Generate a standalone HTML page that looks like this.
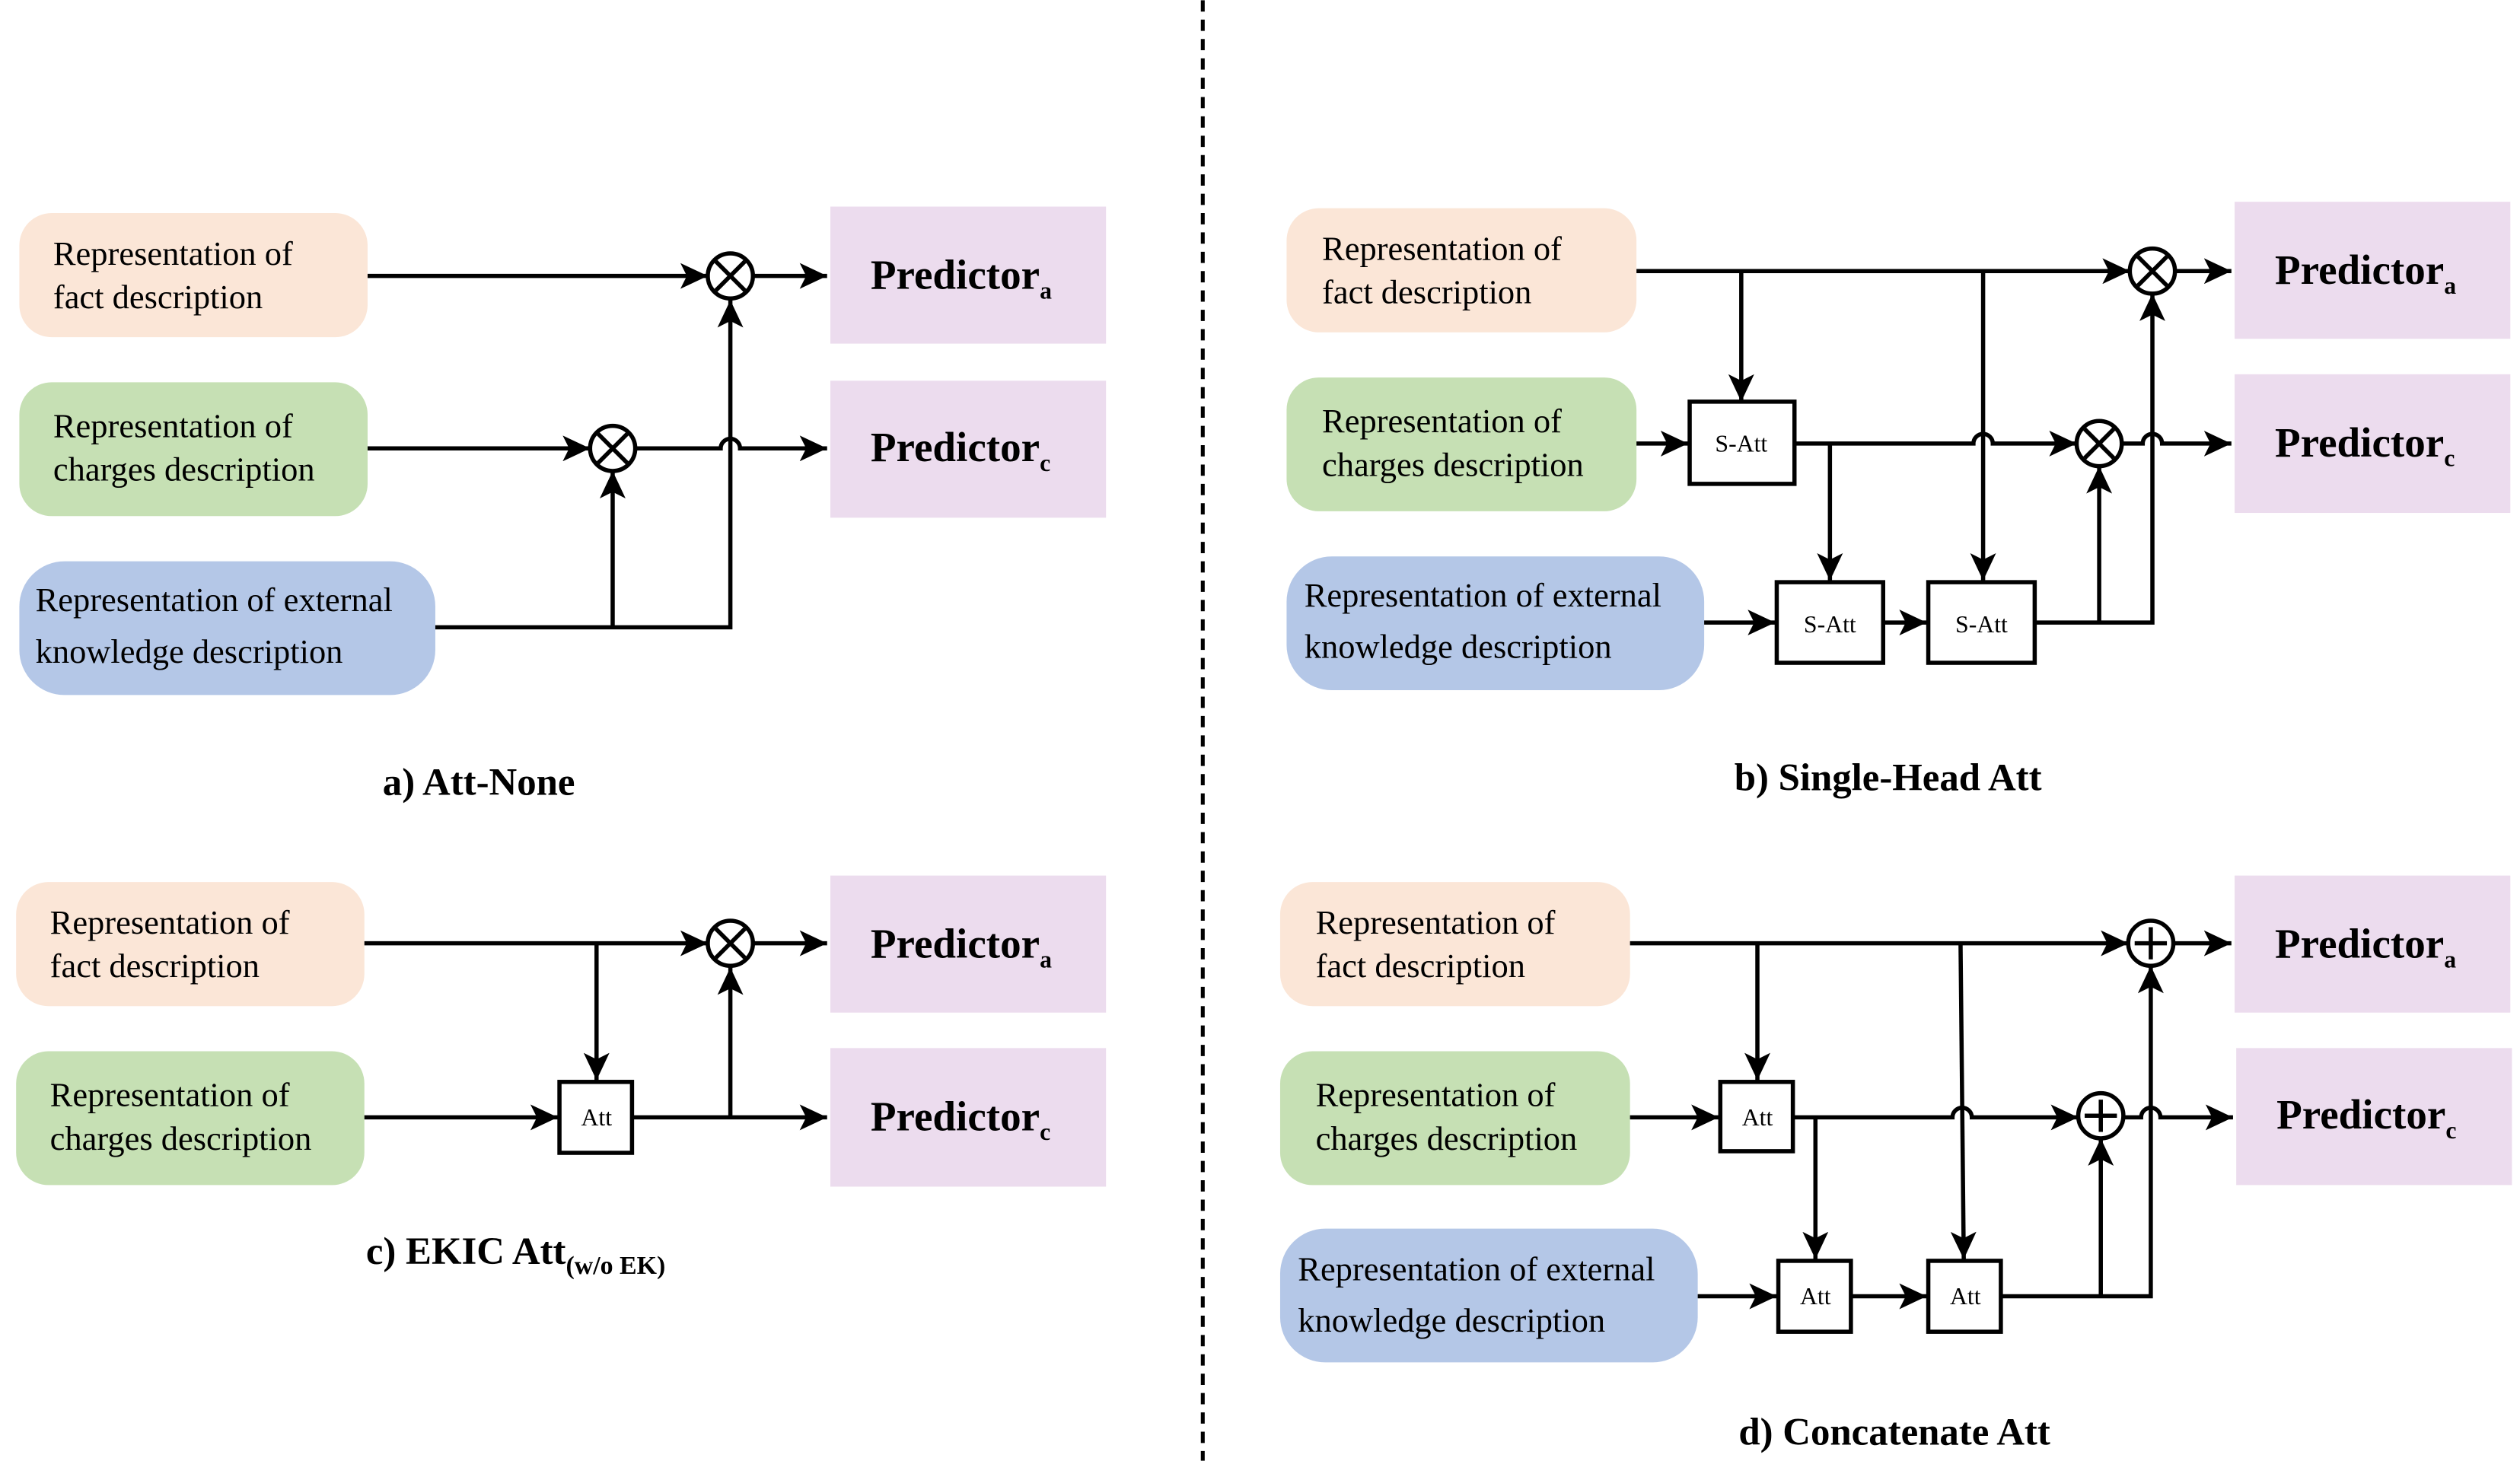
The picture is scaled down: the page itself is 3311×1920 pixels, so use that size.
<!DOCTYPE html>
<html><head><meta charset="utf-8"><style>
html,body{margin:0;padding:0;background:#fff;}
svg{display:block;}
svg, svg text{font-family:"Liberation Serif","Noto Serif CJK SC","DejaVu Serif",serif !important;}
.t{font-size:21px;}
.p{font-size:26px;font-weight:bold;}
.l{font-size:24px;font-weight:bold;}
.k{stroke:#000;stroke-width:2.6;fill:none;}
</style></head><body>
<svg width="3311" height="1920" viewBox="0 0 1563 906" xmlns="http://www.w3.org/2000/svg">
<defs>
<marker id="a" markerUnits="userSpaceOnUse" markerWidth="18" markerHeight="16" refX="17" refY="8" orient="auto">
<path d="M0,0 L17,8 L0,16 L4,8 Z" fill="#000"/>
</marker>
</defs>
<g>
<line x1="746" y1="0" x2="746" y2="906" stroke="#000" stroke-width="2.4" stroke-dasharray="7,5"/>

<rect x="12" y="132" width="216" height="77" rx="20" fill="#fbe6d7"/>
<text class="t" x="33" y="164">Representation of</text><text class="t" x="33" y="191">fact description</text>
<rect x="12" y="237" width="216" height="83" rx="20" fill="#c6e0b4"/>
<text class="t" x="33" y="271">Representation of</text><text class="t" x="33" y="298">charges description</text>
<rect x="12" y="348" width="258" height="83" rx="28" fill="#b4c7e7"/>
<text class="t" x="22" y="379">Representation of external</text><text class="t" x="22" y="411">knowledge description</text>
<rect x="515" y="128" width="171" height="85" fill="#ecdcee"/>
<text class="p" x="540" y="179">Predictor<tspan font-size="15" dy="6">a</tspan></text>
<rect x="515" y="236" width="171" height="85" fill="#ecdcee"/>
<text class="p" x="540" y="286">Predictor<tspan font-size="15" dy="6">c</tspan></text>
<path class="k" d="M228,171 H439" marker-end="url(#a)"/>
<path class="k" d="M467,171 H513" marker-end="url(#a)"/>
<path class="k" d="M228,278 H366" marker-end="url(#a)"/>
<path class="k" d="M394,278 H447 A6,6 0 0 1 459,278 H513" marker-end="url(#a)"/>
<path class="k" d="M270,389 H453 V186" marker-end="url(#a)"/>
<path class="k" d="M380,389 V292" marker-end="url(#a)"/>
<g class="k"><circle cx="453" cy="171" r="14"/><path d="M444,162 L462,180 M462,162 L444,180"/></g>
<g class="k"><circle cx="380" cy="278" r="14"/><path d="M371,269 L389,287 M389,269 L371,287"/></g>
<text class="l" x="297" y="493" text-anchor="middle">a) Att-None</text>

<rect x="798" y="129" width="217" height="77" rx="20" fill="#fbe6d7"/>
<text class="t" x="820" y="161">Representation of</text><text class="t" x="820" y="188">fact description</text>
<rect x="798" y="234" width="217" height="83" rx="20" fill="#c6e0b4"/>
<text class="t" x="820" y="268">Representation of</text><text class="t" x="820" y="295">charges description</text>
<rect x="798" y="345" width="259" height="83" rx="28" fill="#b4c7e7"/>
<text class="t" x="809" y="376">Representation of external</text><text class="t" x="809" y="408">knowledge description</text>
<rect x="1386" y="125" width="171" height="85" fill="#ecdcee"/>
<text class="p" x="1411" y="176">Predictor<tspan font-size="15" dy="6">a</tspan></text>
<rect x="1386" y="232" width="171" height="86" fill="#ecdcee"/>
<text class="p" x="1411" y="283">Predictor<tspan font-size="15" dy="6">c</tspan></text>
<path class="k" d="M1015,168 H1321" marker-end="url(#a)"/>
<path class="k" d="M1349,168 H1384" marker-end="url(#a)"/>
<path class="k" d="M1080,168 V249" marker-end="url(#a)"/>
<path class="k" d="M1230,168 V360" marker-end="url(#a)"/>
<path class="k" d="M1015,275 H1047" marker-end="url(#a)"/>
<path class="k" d="M1113,275 H1224 A6,6 0 0 1 1236,275 H1288" marker-end="url(#a)"/>
<path class="k" d="M1316,275 H1329 A6,6 0 0 1 1341,275 H1384" marker-end="url(#a)"/>
<path class="k" d="M1135,275 V360" marker-end="url(#a)"/>
<path class="k" d="M1057,386 H1101" marker-end="url(#a)"/>
<path class="k" d="M1168,386 H1195" marker-end="url(#a)"/>
<path class="k" d="M1262,386 H1335 V182" marker-end="url(#a)"/>
<path class="k" d="M1302,386 V289" marker-end="url(#a)"/>
<rect class="k" x="1048" y="249" width="65" height="51" fill="#fff"/>
<text x="1080" y="280" font-size="15" text-anchor="middle">S-Att</text>
<rect class="k" x="1102" y="361" width="66" height="50" fill="#fff"/>
<text x="1135" y="392" font-size="15" text-anchor="middle">S-Att</text>
<rect class="k" x="1196" y="361" width="66" height="50" fill="#fff"/>
<text x="1229" y="392" font-size="15" text-anchor="middle">S-Att</text>
<g class="k"><circle cx="1335" cy="168" r="14"/><path d="M1326,159 L1344,177 M1344,159 L1326,177"/></g>
<g class="k"><circle cx="1302" cy="275" r="14"/><path d="M1293,266 L1311,284 M1311,266 L1293,284"/></g>
<text class="l" x="1171" y="490" text-anchor="middle">b) Single-Head Att</text>

<rect x="10" y="547" width="216" height="77" rx="20" fill="#fbe6d7"/>
<text class="t" x="31" y="579">Representation of</text><text class="t" x="31" y="606">fact description</text>
<rect x="10" y="652" width="216" height="83" rx="20" fill="#c6e0b4"/>
<text class="t" x="31" y="686">Representation of</text><text class="t" x="31" y="713">charges description</text>
<rect x="515" y="543" width="171" height="85" fill="#ecdcee"/>
<text class="p" x="540" y="594">Predictor<tspan font-size="15" dy="6">a</tspan></text>
<rect x="515" y="650" width="171" height="86" fill="#ecdcee"/>
<text class="p" x="540" y="701">Predictor<tspan font-size="15" dy="6">c</tspan></text>
<path class="k" d="M226,585 H439" marker-end="url(#a)"/>
<path class="k" d="M467,585 H513" marker-end="url(#a)"/>
<path class="k" d="M370,585 V670" marker-end="url(#a)"/>
<path class="k" d="M226,693 H346" marker-end="url(#a)"/>
<path class="k" d="M392,693 H513" marker-end="url(#a)"/>
<path class="k" d="M453,693 V600" marker-end="url(#a)"/>
<rect class="k" x="347" y="671" width="45" height="44" fill="#fff"/>
<text x="370" y="698" font-size="15" text-anchor="middle">Att</text>
<g class="k"><circle cx="453" cy="585" r="14"/><path d="M444,576 L462,594 M462,576 L444,594"/></g>
<text class="l" x="227" y="784">c) EKIC Att<tspan font-size="16" dy="6">(w/o EK)</tspan></text>

<rect x="794" y="547" width="217" height="77" rx="20" fill="#fbe6d7"/>
<text class="t" x="816" y="579">Representation of</text><text class="t" x="816" y="606">fact description</text>
<rect x="794" y="652" width="217" height="83" rx="20" fill="#c6e0b4"/>
<text class="t" x="816" y="686">Representation of</text><text class="t" x="816" y="713">charges description</text>
<rect x="794" y="762" width="259" height="83" rx="28" fill="#b4c7e7"/>
<text class="t" x="805" y="794">Representation of external</text><text class="t" x="805" y="826">knowledge description</text>
<rect x="1386" y="543" width="171" height="85" fill="#ecdcee"/>
<text class="p" x="1411" y="594">Predictor<tspan font-size="15" dy="6">a</tspan></text>
<rect x="1387" y="650" width="171" height="85" fill="#ecdcee"/>
<text class="p" x="1412" y="700">Predictor<tspan font-size="15" dy="6">c</tspan></text>
<path class="k" d="M1011,585 H1320" marker-end="url(#a)"/>
<path class="k" d="M1348,585 H1384" marker-end="url(#a)"/>
<path class="k" d="M1090,585 V670" marker-end="url(#a)"/>
<path class="k" d="M1216,585 L1218,781" marker-end="url(#a)"/>
<path class="k" d="M1011,693 H1066" marker-end="url(#a)"/>
<path class="k" d="M1112,693 H1211 A6,6 0 0 1 1223,693 H1289" marker-end="url(#a)"/>
<path class="k" d="M1317,693 H1328 A6,6 0 0 1 1340,693 H1385" marker-end="url(#a)"/>
<path class="k" d="M1126,693 V781" marker-end="url(#a)"/>
<path class="k" d="M1053,804 H1102" marker-end="url(#a)"/>
<path class="k" d="M1148,804 H1195" marker-end="url(#a)"/>
<path class="k" d="M1241,804 H1334 V599" marker-end="url(#a)"/>
<path class="k" d="M1303,804 V706" marker-end="url(#a)"/>
<rect class="k" x="1067" y="671" width="45" height="43" fill="#fff"/>
<text x="1090" y="698" font-size="15" text-anchor="middle">Att</text>
<rect class="k" x="1103" y="782" width="45" height="44" fill="#fff"/>
<text x="1126" y="809" font-size="15" text-anchor="middle">Att</text>
<rect class="k" x="1196" y="782" width="45" height="44" fill="#fff"/>
<text x="1219" y="809" font-size="15" text-anchor="middle">Att</text>
<g class="k"><circle cx="1334" cy="585" r="14"/><path d="M1324,585 H1344 M1334,575 V595"/></g>
<g class="k"><circle cx="1303" cy="692" r="14"/><path d="M1293,692 H1313 M1303,682 V702"/></g>
<text class="l" x="1175" y="896" text-anchor="middle">d) Concatenate Att</text>
</g>
</svg>
</body></html>
